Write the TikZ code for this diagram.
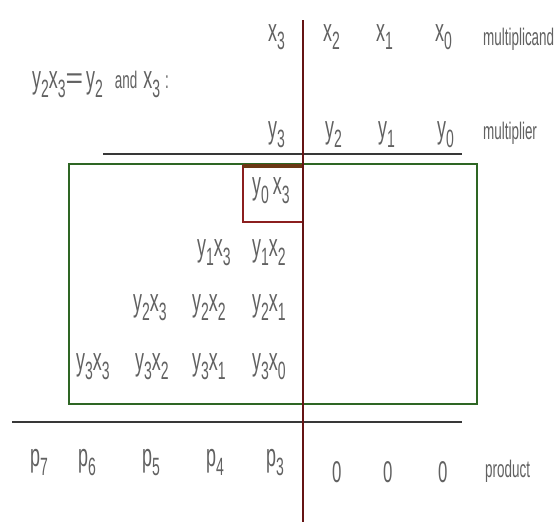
\documentclass[tikz,border=0pt]{standalone}
\usepackage{fontspec}
\setmainfont{Liberation Sans}[FakeStretch=0.56]
\newfontfamily\widefont{Liberation Sans}
\definecolor{txt}{rgb}{0.38,0.38,0.38}
\definecolor{maroon}{rgb}{0.40,0.08,0.08}
\definecolor{boxred}{rgb}{0.55,0.12,0.12}
\definecolor{barbrown}{rgb}{0.42,0.22,0.08}
\definecolor{dgreen}{rgb}{0.18,0.40,0.14}
\definecolor{lgray}{rgb}{0.22,0.22,0.22}
\newcommand\varsub[2]{{\fontsize{32}{32}\selectfont #1}\raisebox{-9pt}{\fontsize{25}{25}\selectfont #2}}
\begin{document}
\begin{tikzpicture}[x=1pt,y=-1pt,
  lbl/.style={anchor=base west, inner sep=0pt, text=txt, font=\fontsize{24}{24}\selectfont},
  hline/.style={draw=lgray, line width=1.8pt},
  vline/.style={draw=maroon, line width=2.6pt},
  greenbox/.style={draw=dgreen, line width=2.4pt},
  redbox/.style={draw=boxred, line width=2.2pt},
  topbar/.style={draw=barbrown, line width=4.5pt}]
\useasboundingbox (0,0) rectangle (557,522);
\fill[white] (0,0) rectangle (557,522);

% frames and lines
\draw[greenbox] (69,164) rectangle (477,404);
\draw[redbox] (243,166) rectangle (303,222);
\draw[topbar] (243,166) -- (303,166);
\draw[hline] (103,154) -- (462,154);
\draw[hline] (12,422) -- (462,422);
\draw[vline] (303,20) -- (303,522);

% equation
\node[lbl] (eq) at (32,88) {\varsub{y}{2}\varsub{x}{3}{\widefont\fontsize{30}{30}\selectfont=}\hspace{3pt}\varsub{y}{2}\hspace{12pt}and\hspace{6pt}\varsub{x}{3}\hspace{5pt}:};

% multiplicand row
\node[lbl] (x3) at (268,41) {\varsub{x}{3}};
\node[lbl] (x2) at (323,41) {\varsub{x}{2}};
\node[lbl] (x1) at (376,41) {\varsub{x}{1}};
\node[lbl] (x0) at (435,41) {\varsub{x}{0}};
\node[lbl] (mcand) at (483,45) {multiplicand};

% multiplier row
\node[lbl] (y3) at (268,138) {\varsub{y}{3}};
\node[lbl] (y2) at (325,138) {\varsub{y}{2}};
\node[lbl] (y1) at (378,138) {\varsub{y}{1}};
\node[lbl] (y0) at (437,138) {\varsub{y}{0}};
\node[lbl] (mplier) at (483,139) {multiplier};

% partial products
\node[lbl] (r1c1) at (252,194) {\varsub{y}{0}\,\varsub{x}{3}};
\node[lbl] (r2c2) at (197,256) {\varsub{y}{1}\varsub{x}{3}};
\node[lbl] (r2c1) at (252,256) {\varsub{y}{1}\varsub{x}{2}};
\node[lbl] (r3c3) at (133,311) {\varsub{y}{2}\varsub{x}{3}};
\node[lbl] (r3c2) at (192,311) {\varsub{y}{2}\varsub{x}{2}};
\node[lbl] (r3c1) at (252,311) {\varsub{y}{2}\varsub{x}{1}};
\node[lbl] (r4c4) at (76,370) {\varsub{y}{3}\varsub{x}{3}};
\node[lbl] (r4c3) at (135,370) {\varsub{y}{3}\varsub{x}{2}};
\node[lbl] (r4c2) at (192,370) {\varsub{y}{3}\varsub{x}{1}};
\node[lbl] (r4c1) at (252,370) {\varsub{y}{3}\varsub{x}{0}};

% product row
\node[lbl] (p7) at (30,466) {\varsub{p}{7}};
\node[lbl] (p6) at (78,466) {\varsub{p}{6}};
\node[lbl] (p5) at (142,466) {\varsub{p}{5}};
\node[lbl] (p4) at (206,466) {\varsub{p}{4}};
\node[lbl] (p3) at (266,466) {\varsub{p}{3}};
\node[lbl, font=\fontsize{30}{30}\selectfont] (z2) at (332,482) {0};
\node[lbl, font=\fontsize{30}{30}\selectfont] (z1) at (383,482) {0};
\node[lbl, font=\fontsize{30}{30}\selectfont] (z0) at (438,482) {0};
\node[lbl] (prod) at (485,477) {product};
\end{tikzpicture}
\end{document}
